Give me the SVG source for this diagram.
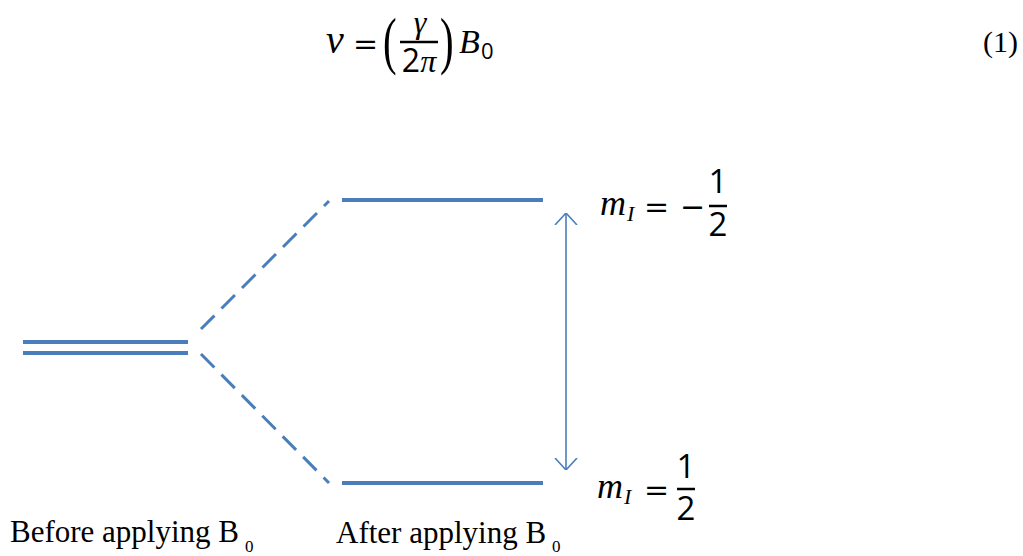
<svg xmlns="http://www.w3.org/2000/svg" width="1023" height="556" viewBox="0 0 1023 556">
<defs>
<style>
.lvl{stroke:#4a7ebb;stroke-width:4;fill:none}
.dash{stroke:#4a7ebb;stroke-width:3;fill:none;stroke-dasharray:19 10}
.arr{stroke:#4a7ebb;stroke-width:1.6;fill:none}
.t{font-family:"Liberation Serif","Times New Roman",serif;fill:#000}
.op{font-family:"DejaVu Serif","Liberation Serif",serif;fill:#000}
.mi{font-family:"Liberation Serif","Times New Roman",serif;font-style:italic;fill:#000}
.num{font-family:"Open Sans","Liberation Sans",sans-serif;fill:#000}
.bar{stroke:#000;stroke-width:2.5}
</style>
<marker id="open" viewBox="0 0 12 24" refX="12" refY="12" markerWidth="12" markerHeight="24" markerUnits="userSpaceOnUse" orient="auto-start-reverse">
<path d="M0,1 L12,12 L0,23" fill="none" stroke="#4a7ebb" stroke-width="1.6"/>
</marker>
</defs>
<rect width="1023" height="556" fill="#fff"/>

<g id="equation">
<text class="mi" x="326" y="53" font-size="40">ν</text>
<text class="op" x="353" y="54" font-size="30">=</text>
<text class="t" transform="translate(383,62) scale(0.65,1)" font-size="63">(</text>
<text class="mi" x="420" y="33" font-size="32" text-anchor="middle">γ</text>
<line class="bar" x1="400" y1="42" x2="438" y2="42"/>
<text x="419" y="72" font-size="32" text-anchor="middle"><tspan class="num">2</tspan><tspan class="mi">π</tspan></text>
<text class="t" transform="translate(440,62) scale(0.65,1)" font-size="63">)</text>
<text class="mi" x="459" y="53" font-size="34">B</text>
<text class="num" x="481" y="59" font-size="22">0</text>
<text class="t" x="983" y="52" font-size="30">(1)</text>
</g>

<g id="level-before">
<line class="lvl" x1="23" y1="342" x2="188" y2="342"/>
<line class="lvl" x1="23" y1="353" x2="188" y2="353"/>
</g>
<g id="level-upper">
<line class="lvl" x1="342" y1="200" x2="543" y2="200"/>
</g>
<g id="level-lower">
<line class="lvl" x1="342" y1="483" x2="543" y2="483"/>
</g>

<g id="connectors">
<line class="dash" x1="201" y1="329" x2="329" y2="201"/>
<line class="dash" x1="201" y1="354" x2="329" y2="483"/>
<line class="arr" x1="566" y1="213" x2="566" y2="470" marker-start="url(#open)" marker-end="url(#open)"/>
</g>

<g id="label-upper">
<text class="mi" x="600" y="215" font-size="36">m</text>
<text class="mi" x="627" y="221" font-size="22">I</text>
<text class="op" x="644" y="217" font-size="30">=</text>
<text class="op" x="680" y="217" font-size="30">−</text>
<text class="num" x="718" y="193" font-size="33" text-anchor="middle">1</text>
<line class="bar" x1="709" y1="206" x2="727" y2="206"/>
<text class="num" x="718" y="236" font-size="33" text-anchor="middle">2</text>
</g>

<g id="label-lower">
<text class="mi" x="597" y="498" font-size="36">m</text>
<text class="mi" x="624" y="504" font-size="22">I</text>
<text class="op" x="644" y="500" font-size="30">=</text>
<text class="num" x="686" y="478" font-size="33" text-anchor="middle">1</text>
<line class="bar" x1="677" y1="489" x2="695" y2="489"/>
<text class="num" x="686" y="520" font-size="33" text-anchor="middle">2</text>
</g>

<g id="caption-before">
<text class="t" x="10" y="542" font-size="31">Before applying B</text>
<text class="t" x="245" y="552" font-size="17">0</text>
</g>
<g id="caption-after">
<text class="t" x="336" y="543" font-size="31">After applying B</text>
<text class="t" x="552" y="552" font-size="17">0</text>
</g>
</svg>
